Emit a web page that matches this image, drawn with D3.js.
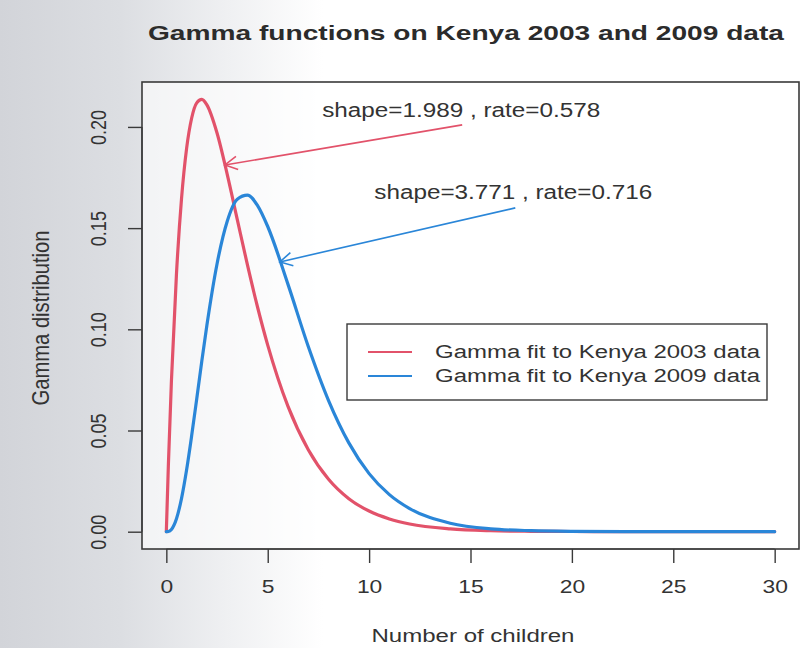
<!DOCTYPE html>
<html>
<head>
<meta charset="utf-8">
<script src="https://cdn.jsdelivr.net/npm/d3@7"></script>
<style>
  html, body { margin: 0; padding: 0; background: #fff; }
  svg { display: block; font-family: "Liberation Sans", Arial, sans-serif; }
</style>
</head>
<body>
<svg id="chart" width="808" height="648"></svg>
<script>
// ---- data ----
const xValues = [0, 0.1, 0.25, 0.5, 0.75, 1, 1.25, 1.5, 1.75, 2, 2.5, 3, 3.5, 4, 4.5, 5, 6, 7, 8, 9, 10, 11, 12, 14, 16, 18, 20, 25, 30];
const kenya2003 = [0, 0.0327, 0.0742, 0.1274, 0.1647, 0.1894, 0.2044, 0.2119, 0.2136, 0.2109, 0.1970, 0.1767, 0.1542, 0.1318, 0.1109, 0.0922, 0.0619, 0.0405, 0.0259, 0.0163, 0.0102, 0.0063, 0.0038, 0.0014, 0.0005, 0.0002, 0.0001, 0, 0];
const kenya2009 = [0, 0.0001, 0.0011, 0.0064, 0.0165, 0.0306, 0.0475, 0.0657, 0.0843, 0.1020, 0.1323, 0.1533, 0.1643, 0.1663, 0.1611, 0.1508, 0.1222, 0.0915, 0.0648, 0.0439, 0.0287, 0.0183, 0.0114, 0.0042, 0.0014, 0.0005, 0.0002, 0, 0];
const seriesNames = ["Gamma fit to Kenya 2003 data", "Gamma fit to Kenya 2009 data"];
const seriesColors = ["#e2526a", "#2a86d8"];
const xTicks = [0, 5, 10, 15, 20, 25, 30];
const yTicks = [0.00, 0.05, 0.10, 0.15, 0.20];
const annotations = [
  { text: "shape=1.989 , rate=0.578", tx: 14.54, ty: 0.2049, fromX: 14.59, fromY: 0.2010, toX: 2.89, toY: 0.1812, color: "#e2526a" },
  { text: "shape=3.771 , rate=0.716", tx: 17.11, ty: 0.1644, fromX: 17.21, fromY: 0.1600, toX: 5.6, toY: 0.1333, color: "#2a86d8" }
];

// ---- layout ----
const svg = d3.select("#chart");
const W = 808, H = 648;
const box = { left: 142, right: 799, top: 82, bottom: 549 };
const x = d3.scaleLinear().domain([-1.2, 31.2]).range([box.left, box.right]);
const y = d3.scaleLinear().domain([-0.00855, 0.2222]).range([box.bottom, box.top]);
const SX = 1.27; // horizontal stretch of the scanned glyphs

// scanned-page shading on the left
const defs = svg.append("defs");
const grad = defs.append("linearGradient").attr("id", "shade").attr("x1", "0").attr("x2", "1").attr("y1", "0").attr("y2", "0");
grad.append("stop").attr("offset", "0").attr("stop-color", "#d2d4d9");
grad.append("stop").attr("offset", "0.15").attr("stop-color", "#dcdee2");
grad.append("stop").attr("offset", "0.28").attr("stop-color", "#eff0f2");
grad.append("stop").attr("offset", "0.40").attr("stop-color", "#ffffff");
svg.append("rect").attr("width", W).attr("height", H).attr("fill", "url(#shade)");
svg.append("rect").attr("x", box.left).attr("y", box.top).attr("width", box.right - box.left).attr("height", box.bottom - box.top).attr("fill", "#ffffff").attr("opacity", 0.6);

const ink = "#3a3a3a";
const txt = "#333";

// title
svg.append("text").attr("x", 466).attr("y", 40).attr("text-anchor", "middle")
  .attr("font-size", 21).attr("font-weight", "bold").attr("fill", "#2b2b2b")
  .attr("textLength", 636).attr("lengthAdjust", "spacingAndGlyphs")
  .text("Gamma functions on Kenya 2003 and 2009 data");

// axes (R style: ticks outside the box)
const xAxis = d3.axisBottom(x).tickValues(xTicks).tickSize(14).tickPadding(17).tickFormat(d3.format("d"));
const gx = svg.append("g").attr("transform", `translate(0,${box.bottom})`).call(xAxis);
gx.select(".domain").attr("d", `M${x(0)},0H${x(30)}`).attr("stroke", ink).attr("stroke-width", 1.2);
gx.selectAll(".tick line").attr("stroke", ink).attr("stroke-width", 1.4);
gx.selectAll(".tick text").attr("font-size", 18).attr("fill", txt)
  .attr("font-family", "Liberation Sans, Arial, sans-serif")
  .attr("transform", `scale(${SX},1)`);

const yAxis = d3.axisLeft(y).tickValues(yTicks).tickSize(14).tickFormat(d3.format(".2f"));
const gy = svg.append("g").attr("transform", `translate(${box.left},0)`).call(yAxis);
gy.select(".domain").attr("d", `M0,${y(0)}V${y(0.20)}`).attr("stroke", ink).attr("stroke-width", 1.2);
gy.selectAll(".tick line").attr("stroke", ink).attr("stroke-width", 1.4);
gy.selectAll(".tick text")
  .attr("font-size", 18).attr("fill", txt).attr("font-family", "Liberation Sans, Arial, sans-serif")
  .attr("x", 0).attr("y", 0).attr("dy", "0.35em")
  .attr("text-anchor", "middle")
  .attr("transform", `translate(-44,0) scale(${SX},1) rotate(-90)`);

// plot box
svg.append("rect").attr("x", box.left).attr("y", box.top)
  .attr("width", box.right - box.left).attr("height", box.bottom - box.top)
  .attr("fill", "none").attr("stroke", ink).attr("stroke-width", 1.6);

// axis titles
svg.append("text").attr("x", 473).attr("y", 642).attr("text-anchor", "middle")
  .attr("font-size", 18).attr("fill", txt)
  .attr("textLength", 203).attr("lengthAdjust", "spacingAndGlyphs")
  .text("Number of children");
svg.append("text").attr("transform", `translate(49,318) scale(${SX},1) rotate(-90)`)
  .attr("text-anchor", "middle").attr("font-size", 18.5).attr("fill", txt)
  .attr("textLength", 175).attr("lengthAdjust", "spacingAndGlyphs")
  .text("Gamma distribution");

// curves
const line = d3.line().x(d => x(d[0])).y(d => y(d[1])).curve(d3.curveMonotoneX);
[kenya2003, kenya2009].forEach((vals, i) => {
  const pts = xValues.map((xv, j) => [xv, vals[j]]);
  svg.append("path").datum(pts).attr("d", line)
    .attr("fill", "none").attr("stroke", seriesColors[i]).attr("stroke-width", 3.2)
    .attr("stroke-linejoin", "round").attr("stroke-linecap", "round");
});

// annotations with open arrowheads
annotations.forEach(a => {
  const x1 = x(a.fromX), y1 = y(a.fromY), x2 = x(a.toX), y2 = y(a.toY);
  svg.append("line").attr("x1", x1).attr("y1", y1).attr("x2", x2).attr("y2", y2)
    .attr("stroke", a.color).attr("stroke-width", 1.6);
  const ang = Math.atan2(y1 - y2, x1 - x2);
  const L = 14, spread = 0.5;
  const p = d3.path();
  p.moveTo(x2 + L * Math.cos(ang + spread), y2 + L * Math.sin(ang + spread));
  p.lineTo(x2, y2);
  p.lineTo(x2 + L * Math.cos(ang - spread), y2 + L * Math.sin(ang - spread));
  svg.append("path").attr("d", p.toString()).attr("fill", "none").attr("stroke", a.color).attr("stroke-width", 1.6);
  svg.append("text").attr("x", x(a.tx)).attr("y", y(a.ty)).attr("text-anchor", "middle")
    .attr("font-size", 20).attr("fill", txt)
    .attr("textLength", 278).attr("lengthAdjust", "spacingAndGlyphs")
    .text(a.text);
});

// legend
const lg = svg.append("g").attr("transform", "translate(347,324)");
lg.append("rect").attr("width", 420).attr("height", 76).attr("fill", "#fff").attr("stroke", ink).attr("stroke-width", 1.4);
seriesNames.forEach((name, i) => {
  const yy = 28 + i * 24;
  lg.append("line").attr("x1", 21).attr("x2", 65).attr("y1", yy).attr("y2", yy)
    .attr("stroke", seriesColors[i]).attr("stroke-width", 2);
  lg.append("text").attr("x", 88).attr("y", yy).attr("dy", "0.35em")
    .attr("font-size", 18).attr("fill", txt)
    .attr("textLength", 325).attr("lengthAdjust", "spacingAndGlyphs")
    .text(name);
});
</script>
</body>
</html>
